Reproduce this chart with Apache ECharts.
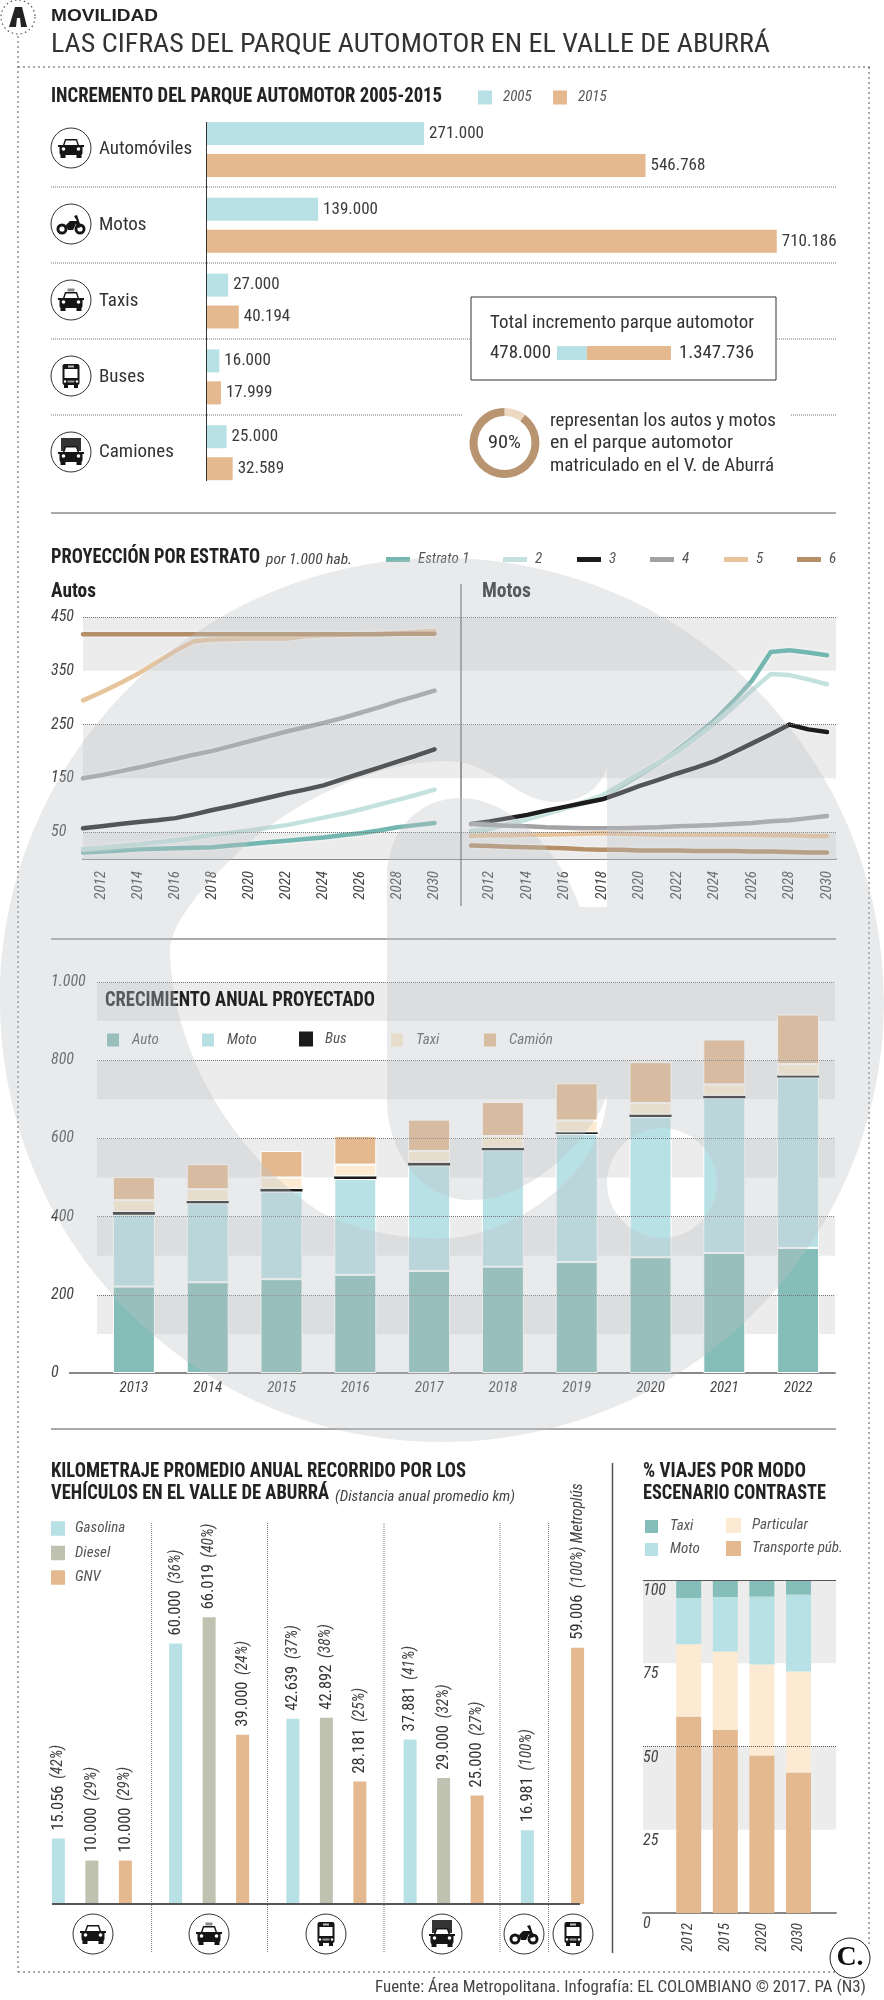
<!DOCTYPE html>
<html><head><meta charset="utf-8">
<style>html,body{margin:0;padding:0;background:#fff}#c{width:884px;height:2000px}</style>
<script src="https://cdn.jsdelivr.net/npm/echarts@6/dist/echarts.min.js"></script>
</head><body><div id="c"></div>
<script>
// ---------- DATA ----------
const vehicleCats = ['Automóviles','Motos','Taxis','Buses','Camiones'];
const parque2005 = [271000,139000,27000,16000,25000];
const parque2015 = [546768,710186,40194,17999,32589];
const totalInc = [478000,1347736];
const shareAutosMotos = [10,90];

const years = ['2011','2012','2013','2014','2015','2016','2017','2018','2019','2020','2021','2022','2023','2024','2025','2026','2027','2028','2029','2030'];
const estratoNames = ['Estrato 1','2','3','4','5','6'];
const autosE1 = [12,14,16,18,19,20,21,22,25,28,31,34,37,40,44,48,53,59,63,67];
const autosE2 = [18,21,24,27,31,35,39,45,49,53,58,63,70,77,84,92,101,110,119,129];
const autosE3 = [57,61,65,69,72,76,83,91,98,106,114,122,129,137,148,159,170,181,192,204];
const autosE4 = [150,156,163,170,178,186,194,201,210,219,228,237,245,253,262,272,282,293,303,313];
const autosE5 = [295,310,327,345,366,387,405,408,409,410,410,410,414,416,417,418,419,420,422,424];
const autosE6 = [418,418,418,418,418,418,418,418,418,418,418,418,418,418,418,418,418,419,419,419];
const motosE1 = [49,56,65,74,84,94,104,116,135,156,178,202,229,258,293,332,385,388,384,379];
const motosE2 = [52,57,65,74,84,95,106,118,138,159,179,199,225,252,282,314,344,342,334,325];
const motosE3 = [65,70,76,82,90,97,104,111,123,136,147,159,170,182,198,215,232,250,241,236];
const motosE4 = [65,63,62,61,59,58,57,57,57,58,59,61,62,63,65,67,70,72,76,80];
const motosE5 = [43,44,44,45,45,46,47,48,47,46,45,45,45,45,45,45,44,44,43,43];
const motosE6 = [25,24,23,22,21,20,18,17,17,16,16,16,15,15,15,14,14,13,12,12];
const lineBands = [[0,50],[150,250],[350,450]];
const lineTicks = [50,250,450];

const growthYears = ['2013','2014','2015','2016','2017','2018','2019','2020','2021','2022'];
const growthAuto = [221,232,240,251,261,272,284,296,307,320];
const growthMoto = [184,202,224,245,270,298,327,359,396,436];
const growthBus = [7,6,7,7,7,6,5,6,6,5];
const growthTaxi = [30,30,29,30,30,30,30,29,29,29];
const growthCamion = [59,64,68,73,80,87,95,105,115,127];
const growthBands = [[100,200],[300,400],[500,600],[700,800],[900,1000]];
const growthTicks = [200,400,600,800,1000];

const kmSlots = ['Auto','','Auto','','Auto','','','Taxi','','Taxi','','Taxi','','','Bus','','Bus','','Bus','','','Camión','','Camión','','Camión','','','Moto','','','Metroplús'];
const kmGasolina = [15056,null,null,null,null,null,null,60000,null,null,null,null,null,null,42639,null,null,null,null,null,null,37881,null,null,null,null,null,null,16981,null,null,null];
const kmDiesel = [null,null,10000,null,null,null,null,null,null,66019,null,null,null,null,null,null,42892,null,null,null,null,null,null,29000,null,null,null,null,null,null,null,null];
const kmGnv = [null,null,null,null,10000,null,null,null,null,null,null,39000,null,null,null,null,null,null,28181,null,null,null,null,null,null,25000,null,null,null,null,null,59006];
const kmPct = [42,null,29,null,29,null,null,36,null,40,null,24,null,null,37,null,38,null,25,null,null,41,null,32,null,27,null,null,100,null,null,100];

const modeYears = ['2012','2015','2020','2030'];
const modeTransporte = [59,55,47.3,42.2];
const modeParticular = [21.7,23.5,27.3,30.3];
const modeMoto = [13.9,16.4,20.4,23.1];
const modeTaxi = [5.4,5.1,5,4.4];
const modeBands = [[25,50],[75,100]];

// ---------- STYLE ----------
const SANS='"Liberation Sans"', NARROW='"Roboto Condensed","Liberation Sans"';
const BLUE='#b8e1e6', TAN='#e4b98f', TEAL='#85bdb8', CREAM='#fcebd2', OLIVE='#bfc2b0';
const estratoColors=['#74b7b0','#c3e2dd','#1c1c1c','#a2a2a5','#e8c49c','#b48f67'];
const fmt=n=>String(n).replace(/\B(?=(\d{3})+$)/g,'.');
const ctx=document.createElement('canvas').getContext('2d');
function T(x,y,text,font,fill,w,extra){
  ctx.font=font; const m=ctx.measureText(text).width;
  return Object.assign({type:'text',x,y,z:5,silent:true,scaleX:w?w/m:1,
    style:{text,font,fill:fill||'#333',textAlign:'left',textVerticalAlign:'middle'}},extra||{});
}
function L(x1,y1,x2,y2,stroke,width,dash,z){
  return {type:'line',z:z||1,silent:true,shape:{x1,y1,x2,y2},style:{stroke:stroke||'#555',lineWidth:width||1,lineDash:dash||null}};
}
const B='#151515';
function poly(p,f){return {type:'polygon',shape:{points:p},style:{fill:f||B}};}
function rect(x,y,w,h,f,r){return {type:'rect',shape:{x,y,width:w,height:h,r:r||0},style:{fill:f||B}};}
function circ(x,y,r,f,st,lw){return {type:'circle',shape:{cx:x,cy:y,r},style:{fill:f||B,stroke:st||null,lineWidth:lw||0}};}
function carParts(dy){return [
  poly([[-8,-3+dy],[-6,-9+dy],[6,-9+dy],[8,-3+dy]]),
  rect(-11.5,-3+dy,23,10,B,2), rect(-10.5,6+dy,5,4), rect(5.5,6+dy,5,4),
  rect(-13,-3+dy,3,2), rect(10,-3+dy,3,2),
  poly([[-6.5,-3+dy],[-5,-7.5+dy],[5,-7.5+dy],[6.5,-3+dy]],'#fff'),
  circ(-7.5,1+dy,1.8,'#fff'), circ(7.5,1+dy,1.8,'#fff')];}
const iconParts={
  car:()=>carParts(0),
  taxi:()=>carParts(1).concat([rect(-3.5,-11.5,7,3,'#888')]),
  bus:()=>[rect(-8.5,-12,17,21,B,2),rect(-7,9,4,3),rect(3,9,4,3),rect(-6.5,-7,13,9,'#fff'),rect(-3,-10.5,6,2,'#bbb'),rect(-3.5,4.5,7,2,'#999'),circ(-6,5.5,1.2,'#fff'),circ(6,5.5,1.2,'#fff')],
  truck:()=>[rect(-10,-14,20,13,'#333')].concat(carParts(3)),
  moto:()=>[circ(-9,5,5.5,B),circ(-9,5,2.6,'#fff'),circ(9,5,5.5,B),circ(9,5,2.6,'#fff'),
    poly([[-5,1],[-1,-3],[6,-3],[3,-8],[6,-9],[10,3],[7,4],[5,0],[2,6],[-3,6]])]
};
function icon(kind,x,y){
  return {type:'group',x,y,z:5,silent:true,children:[circ(0,0,20,'#fff','#333',1)].concat(iconParts[kind]())};
}
const legFont={fontStyle:'italic',fontSize:15,color:'#555',fontFamily:NARROW,padding:[0,0,0,6]};
function leg(name,left,top,color,w,h,font){
  return {show:true,left,top,itemWidth:w,itemHeight:h,icon:'rect',selectedMode:false,padding:0,itemGap:0,
    data:[{name,itemStyle:{color,opacity:1}}],
    textStyle:Object.assign({},legFont,font||{})};
}
function bandArea(bands,c){return {silent:true,itemStyle:{color:c||'#ececec'},data:bands.map(b=>[{yAxis:b[0]},{yAxis:b[1]}])};}
function dotLines(ticks){return {silent:true,symbol:'none',label:{show:false},lineStyle:{type:[1,1],color:'#777',width:1},data:ticks.map(v=>({yAxis:v}))};}

// ---------- GRIDS / AXES ----------
const grids=[
 {left:83,width:753,top:617,height:242},     //0 line background
 {left:83,width:351.5,top:617,height:242},   //1 autos
 {left:471,width:356,top:617,height:242},    //2 motos
 {left:97,width:738,top:982,height:391},     //3 growth
 {left:206.5,width:642.4,top:111.6,height:379},//4 parque
 {left:50,width:536,top:1600,height:304},    //5 km
 {left:643,width:193,top:1580,height:333},   //6 mode bg
 {left:670.4,width:146.4,top:1580,height:333},//7 mode
 {left:557,width:114,top:346,height:14}      //8 total
];
const yearLabel={rotate:90,fontFamily:NARROW,fontStyle:'italic',fontSize:15,color:'#444',margin:12};
const tickLabel={fontFamily:NARROW,fontStyle:'italic',fontSize:16,color:'#444'};
const xAxis=[
 {gridIndex:0,type:'value',min:0,max:1,axisLabel:{show:false},axisTick:{show:false},splitLine:{show:false},axisLine:{show:true,onZero:false,lineStyle:{color:'#888',width:2}}},
 {gridIndex:1,type:'category',boundaryGap:false,data:years,axisLine:{show:false},axisTick:{show:false},axisLabel:Object.assign({interval:(i,v)=>+v%2===0},yearLabel)},
 {gridIndex:2,type:'category',boundaryGap:false,data:years,axisLine:{show:false},axisTick:{show:false},axisLabel:Object.assign({interval:(i,v)=>+v%2===0},yearLabel)},
 {gridIndex:3,type:'category',data:growthYears,axisTick:{show:false},axisLine:{lineStyle:{color:'#888',width:2}},axisLabel:Object.assign({},tickLabel,{fontSize:15,margin:8})},
 {gridIndex:4,type:'value',min:0,max:800000,show:false},
 {gridIndex:5,type:'category',data:kmSlots,axisTick:{show:false},axisLabel:{show:false},axisLine:{show:false}},
 {gridIndex:6,type:'value',min:0,max:1,axisLabel:{show:false},axisTick:{show:false},splitLine:{show:false},axisLine:{show:true,onZero:false,lineStyle:{color:'#888',width:2}}},
 {gridIndex:7,type:'category',data:modeYears,axisLine:{show:false},axisTick:{show:false},axisLabel:Object.assign({},yearLabel,{interval:0,margin:10})},
 {gridIndex:8,type:'value',min:0,max:totalInc[0]+totalInc[1],show:false}
];
const yAxis=[
 {gridIndex:0,type:'value',min:0,max:450,interval:50,axisLine:{show:false},axisTick:{show:false},splitLine:{show:false},
  axisLabel:Object.assign({align:'left',margin:32,formatter:v=>v%100===50?String(v):''},tickLabel)},
 {gridIndex:1,type:'value',min:0,max:450,show:false},
 {gridIndex:2,type:'value',min:0,max:450,show:false},
 {gridIndex:3,type:'value',min:0,max:1000,interval:200,axisLine:{show:false},axisTick:{show:false},splitLine:{show:false},
  axisLabel:Object.assign({align:'left',margin:46,formatter:v=>fmt(v)},tickLabel)},
 {gridIndex:4,type:'category',inverse:true,data:vehicleCats,axisTick:{show:false},axisLine:{show:false},
  axisLabel:{align:'left',margin:107.5,fontFamily:NARROW,fontSize:19,color:'#333'}},
 {gridIndex:5,type:'value',min:0,max:70000,show:false},
 {gridIndex:6,type:'value',min:0,max:100,interval:25,z:6,axisLine:{show:false},axisTick:{show:false},splitLine:{show:false},
  axisLabel:Object.assign({inside:true,margin:0,verticalAlign:'top',padding:[3,0,0,0]},tickLabel)},
 {gridIndex:7,type:'value',min:0,max:100,show:false},
 {gridIndex:8,type:'category',data:['Total'],show:false}
];

// ---------- SERIES ----------
const series=[];
series.push({type:'line',xAxisIndex:0,yAxisIndex:0,data:[],silent:true,z:1,
  markArea:bandArea(lineBands),markLine:dotLines(lineTicks)});
function lineSeries(arrs,ix){
  arrs.forEach((d,i)=>series.push({type:'line',name:estratoNames[i],xAxisIndex:ix,yAxisIndex:ix,data:d,showSymbol:false,silent:true,z:3,
    itemStyle:{color:estratoColors[i]},
    lineStyle:{color:estratoColors[i],width:4.5,cap:'round',join:'round',shadowColor:'rgba(255,255,255,.8)',shadowBlur:3}}));
}
lineSeries([autosE1,autosE2,autosE3,autosE4,autosE5,autosE6],1);
lineSeries([motosE1,motosE2,motosE3,motosE4,motosE5,motosE6],2);

series.push({type:'line',xAxisIndex:3,yAxisIndex:3,data:[],silent:true,z:1,
  markArea:bandArea(growthBands),markLine:dotLines(growthTicks)});
const growthDefs=[['Auto',growthAuto,TEAL],['Moto',growthMoto,BLUE],['Bus',growthBus,'#1a1a1a'],['Taxi',growthTaxi,CREAM],['Camión',growthCamion,TAN]];
growthDefs.forEach((g,i)=>series.push({type:'bar',name:g[0],xAxisIndex:3,yAxisIndex:3,stack:'g',barWidth:42,data:g[1],silent:true,z:3,
  itemStyle:{color:g[2],borderColor:'#fff',borderWidth:i===2?0:1}}));

[['2005',parque2005,BLUE],['2015',parque2015,TAN]].forEach(s=>series.push({type:'bar',name:s[0],xAxisIndex:4,yAxisIndex:4,data:s[1],barWidth:23,barGap:'39%',silent:true,
  itemStyle:{color:s[2]},label:{show:true,position:'right',distance:5,fontFamily:NARROW,fontSize:17,color:'#3a3a3a',formatter:p=>fmt(p.value)}}));

[['Gasolina',kmGasolina,BLUE],['Diesel',kmDiesel,OLIVE],['GNV',kmGnv,TAN]].forEach(s=>series.push({type:'bar',name:s[0],xAxisIndex:5,yAxisIndex:5,data:s[1],barWidth:13,barGap:'-100%',silent:true,
  itemStyle:{color:s[2]},
  label:{show:true,position:'top',rotate:90,align:'left',verticalAlign:'middle',distance:8,
    formatter:p=>'{n|'+fmt(p.value)+'}  {p|('+kmPct[p.dataIndex]+'%)'+(kmSlots[p.dataIndex]==='Metroplús'?' Metroplús':'')+'}',
    rich:{n:{fontFamily:NARROW,fontSize:16.5,color:'#333'},p:{fontFamily:NARROW,fontStyle:'italic',fontSize:15.5,color:'#444'}}}}));

series.push({type:'line',xAxisIndex:6,yAxisIndex:6,data:[],silent:true,z:1,
  markArea:bandArea(modeBands),
  markLine:{silent:true,symbol:'none',label:{show:false},data:[{yAxis:100,lineStyle:{type:'solid',color:'#555',width:1}},{yAxis:50,lineStyle:{type:[1,1],color:'#555',width:1}}]}});
[['Transporte púb.',modeTransporte,TAN],['Particular',modeParticular,CREAM],['Moto',modeMoto,BLUE],['Taxi',modeTaxi,TEAL]].forEach(s=>series.push({type:'bar',name:s[0],xAxisIndex:7,yAxisIndex:7,stack:'m',barWidth:25,data:s[1],silent:true,z:3,itemStyle:{color:s[2]}}));

[[totalInc[0],BLUE],[totalInc[1],TAN]].forEach(s=>series.push({type:'bar',xAxisIndex:8,yAxisIndex:8,stack:'t',barWidth:14,data:[s[0]],silent:true,z:3,itemStyle:{color:s[1]}}));

series.push({type:'pie',center:[504.5,443],radius:[27,35],startAngle:90,silent:true,z:3,label:{show:false},labelLine:{show:false},
  data:[{name:'Resto',value:shareAutosMotos[0],itemStyle:{color:'#edd9c2'}},{name:'Autos y motos',value:shareAutosMotos[1],itemStyle:{color:'#b89470'}}]});

// ---------- LEGENDS ----------
const lineLeg=[386,503,577,650,724,797];
const legend=[
 leg('2005',478,90,BLUE,14,14), leg('2015',553,90,TAN,14,14),
 ...estratoNames.map((n,i)=>leg(n,lineLeg[i],552,estratoColors[i],24,5,{padding:[0,0,0,3]})),
 ...growthDefs.map((g,i)=>leg(g[0],[105,200,299,389,482][i],1031.5,g[2],14,15,{padding:[0,0,0,7]})),
 {show:true,orient:'vertical',left:51,top:1521,itemWidth:14,itemHeight:14.5,itemGap:9.5,icon:'rect',selectedMode:false,padding:0,
  data:[{name:'Gasolina',itemStyle:{color:BLUE}},{name:'Diesel',itemStyle:{color:OLIVE}},{name:'GNV',itemStyle:{color:TAN}}],
  textStyle:Object.assign({},legFont,{padding:[0,0,0,5]})},
 leg('Taxi',643,1518,TEAL,15,15), leg('Moto',643,1541,BLUE,15,15),
 leg('Particular',726,1518,CREAM,15,15), leg('Transporte púb.',726,1541,TAN,15,15)
];

// ---------- ANNOTATIONS ----------
const WM='M442,558 C686,558 884,756 884,1000 C884,1244 686,1442 442,1442 C198,1442 0,1244 0,1000 C0,756 198,558 442,558 Z '+
 'M460,762 C400,755 300,790 230,860 C190,900 170,930 170,950 C172,1050 230,1150 317,1210 C360,1235 420,1240 452,1238 C520,1232 607,1170 607,1093 C600,1125 540,1200 470,1200 C420,1200 387,1150 387,1100 L387,877 C387,830 420,798 460,798 C510,798 560,850 580,907 L607,907 L607,767 C600,790 580,802 555,802 C520,802 500,770 460,762 Z '+
 'M662,1128 C632,1128 607,1153 607,1183 C607,1213 632,1238 662,1238 C692,1238 717,1213 717,1183 C717,1153 692,1128 662,1128 Z';
echarts.graphic.registerShape('watermark',echarts.graphic.extendPath(WM,{}));

const HB='bold 21px '+NARROW, DOT=[2,3], N=s=>s+'px '+NARROW, graphicEls=[];
graphicEls.push(
 L(18,36,18,1972,'#555',1,DOT), L(18,67,871,67,'#555',1,DOT), L(869,67,869,1945,'#555',1,DOT), L(18,1972,835,1972,'#555',1,DOT),
 {type:'circle',z:2,silent:true,shape:{cx:18,cy:17,r:17},style:{fill:'#fff',stroke:'#555',lineWidth:1.2,lineDash:[1.5,3]}},
 {type:'polygon',z:3,silent:true,shape:{points:[[9,27],[15,7],[22,7],[27,27],[21,27],[20,18],[17,18],[16,27]]},style:{fill:'#222'}},
 T(51,16,'MOVILIDAD','bold 17px '+SANS,'#222',107),
 T(51,45,'LAS CIFRAS DEL PARQUE AUTOMOTOR EN EL VALLE DE ABURRÁ',N(26),'#333',719),
 T(51,97,'INCREMENTO DEL PARQUE AUTOMOTOR 2005-2015',HB,'#222',391),
 L(206.5,122,206.5,481,'#333',1,null,4),
 L(51,187,836,187,'#777',1,[1,1]),L(51,263,836,263,'#777',1,[1,1]),L(51,339,836,339,'#777',1,[1,1]),L(51,415,836,415,'#777',1,[1,1]),
 {type:'rect',z:2,silent:true,shape:{x:463,y:405,width:327,height:70},style:{fill:'#fff'}},
 {type:'rect',z:2,silent:true,shape:{x:471,y:297,width:305,height:83},style:{fill:'#fff',stroke:'#333',lineWidth:1}},
 T(490,323,'Total incremento parque automotor',N(19),'#333',264),
 T(490,353,'478.000',N(19),'#333',61), T(679,353,'1.347.736',N(19),'#333',75),
 T(488,443,'90%',N(19),'#333',33),
 T(550,421,'representan los autos y motos',N(18),'#333',226),
 T(550,443,'en el parque automotor',N(18),'#333',183),
 T(550,466,'matriculado en el V. de Aburrá',N(18),'#333',224),
 L(51,513,836,513,'#555',1), L(51,939,836,939,'#555',1), L(51,1429,836,1429,'#555',1),
 T(51,558,'PROYECCIÓN POR ESTRATO',HB,'#222',209),
 T(266,560,'por 1.000 hab.','italic 15px '+NARROW,'#444',86),
 T(51,592,'Autos',HB,'#222',45), T(482,592,'Motos',HB,'#222',49),
 L(461,584,461,906,'#444',1,null,6),
 L(69,1373,97,1373,'#888',2),
 T(105,1001,'CRECIMIENTO ANUAL PROYECTADO',HB,'#222',270),
 T(51,1472,'KILOMETRAJE PROMEDIO ANUAL RECORRIDO POR LOS',HB,'#222',415),
 T(51,1494,'VEHÍCULOS EN EL VALLE DE ABURRÁ',HB,'#222',278),
 T(335,1497,'(Distancia anual promedio km)','italic 15px '+NARROW,'#444',180),
 T(643,1472,'% VIAJES POR MODO',HB,'#222',163),
 T(643,1494,'ESCENARIO CONTRASTE',HB,'#222',183),
 L(151.6,1523,151.6,1953,'#777',1,[1,1]),L(267.5,1523,267.5,1953,'#777',1,[1,1]),L(384,1523,384,1953,'#777',1,[1,1]),L(500,1523,500,1953,'#777',1,[1,1]),L(548.6,1523,548.6,1953,'#777',1,[1,1]),
 L(52,1904,580,1904,'#555',2,null,4),
 L(612.5,1463,612.5,1953,'#555',1.5),
 T(375,1988,'Fuente: Área Metropolitana. Infografía: EL COLOMBIANO © 2017. PA (N3)',N(16.5),'#444',491),
 {type:'circle',z:6,silent:true,shape:{cx:850,cy:1958,r:20},style:{fill:'#fff',stroke:'#222',lineWidth:1}},
 {type:'text',z:7,silent:true,x:850,y:1958,style:{text:'C.',font:'bold 28px "Liberation Serif"',fill:'#111',textAlign:'center',textVerticalAlign:'middle'}},
 icon('car',71,148),icon('moto',71,224),icon('taxi',71,300),icon('bus',71,376),icon('truck',71,452),
 icon('car',93,1934),icon('taxi',209,1934),icon('bus',326,1934),icon('truck',442,1934),icon('moto',524,1934),icon('bus',573,1934),
 {type:'watermark',z:1000,silent:true,shape:{},style:{fill:'rgba(191,193,198,0.345)'}}
);

const chart=echarts.init(document.getElementById('c'),null,{renderer:'canvas',width:884,height:2000});
chart.setOption({animation:false,backgroundColor:'#fff',grid:grids,xAxis,yAxis,series,legend,tooltip:{show:false},
  graphic:{elements:graphicEls}});
</script></body></html>
